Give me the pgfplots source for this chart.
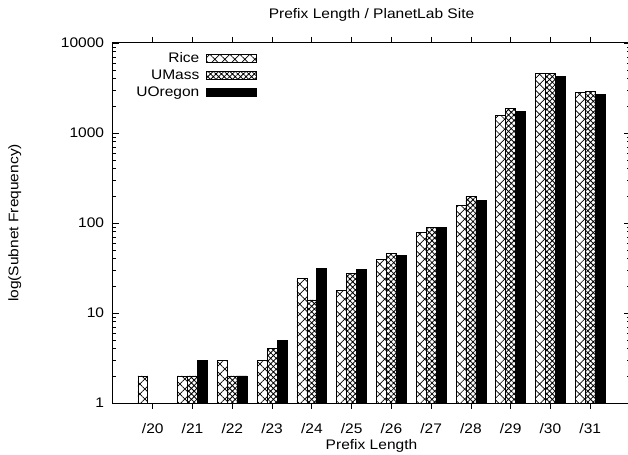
\documentclass[border=0pt]{standalone}
\usepackage{fontspec}
\setmainfont{Liberation Sans}[FakeStretch=1.12]
\usepackage{pgfplots}
\usepackage{pgfplotstable}
\pgfplotsset{compat=1.18}
\usetikzlibrary{patterns.meta}

% prefix length vs subnet counts, one row per prefix
\pgfplotstableread{
pre rice umass uoregon
20  2    1    1
21  2    2    3
22  3    2    2
23  3    4    5
24  24   14   31
25  18   27.5 30.5
26  39.5 46   44
27  78   89.5 89.5
28  158  196  180
29  1580 1880 1720
30  4600 4600 4220
31  2830 2920 2690
}\prefixdata

\pgfplotsset{
  barlegend/.style={legend image code/.code={\draw[##1,bar shift=0pt] (0pt,-3pt) rectangle (37.5pt,3pt);}},
}

\begin{document}
\fontsize{10.4}{12.5}\selectfont
\begin{tikzpicture}
\begin{axis}[
  scale only axis,
  width=387.75pt, height=270pt,
  ymode=log,
  xmin=19, xmax=32,
  ymin=1, ymax=10000,
  ybar,
  bar width=0.25,
  xtick={20,...,31},
  xticklabels={/20,/21,/22,/23,/24,/25,/26,/27,/28,/29,/30,/31},
  log ticks with fixed point,
  /pgf/number format/1000 sep={},
  /pgf/number format/assume math mode=true,
  major tick length=4.5pt,
  minor tick length=2.25pt,
  tick style={black, line width=0.6pt},
  axis line style={line width=0.75pt},
  xticklabel style={anchor=base, yshift=-18.5pt},
  yticklabel style={xshift=-3pt},
  title={Prefix Length / PlanetLab Site},
  title style={at={(axis description cs:0.5,1.045)}, anchor=base},
  xlabel={Prefix Length},
  xlabel style={at={(axis description cs:0.5,-0.13)}, anchor=base},
  ylabel={log(Subnet Frequency)},
  ylabel style={at={(axis description cs:-0.19,0.5)}, anchor=center},
  legend cell align=right,
  legend plot pos=right,
  legend style={draw=none, fill=none, inner sep=0pt, row sep=2pt, column sep=4pt,
    nodes={inner sep=1pt},
    at={(axis description cs:0.2785,0.978)}, anchor=north east},
]
\addplot[draw=black, line width=0.5pt, bar shift=-0.25, barlegend,
  pattern={Hatch[angle=45,distance=5.3pt,line width=0.5pt]}]
  table[x=pre, y=rice] {\prefixdata};
\addplot[draw=black, line width=0.5pt, bar shift=0, barlegend,
  pattern={Hatch[angle=45,distance=2.9pt,line width=0.6pt]}]
  table[x=pre, y=umass] {\prefixdata};
\addplot[draw=black, fill=black, line width=0.5pt, bar shift=0.25, barlegend]
  table[x=pre, y=uoregon] {\prefixdata};
\legend{Rice, UMass, UOregon}
\coordinate (ll) at (rel axis cs:0,0);
\end{axis}
\pgfresetboundingbox
\path[use as bounding box] (ll) ++(-84.75pt,-38.25pt) rectangle ++(471pt,340.5pt);
\end{tikzpicture}
\end{document}
